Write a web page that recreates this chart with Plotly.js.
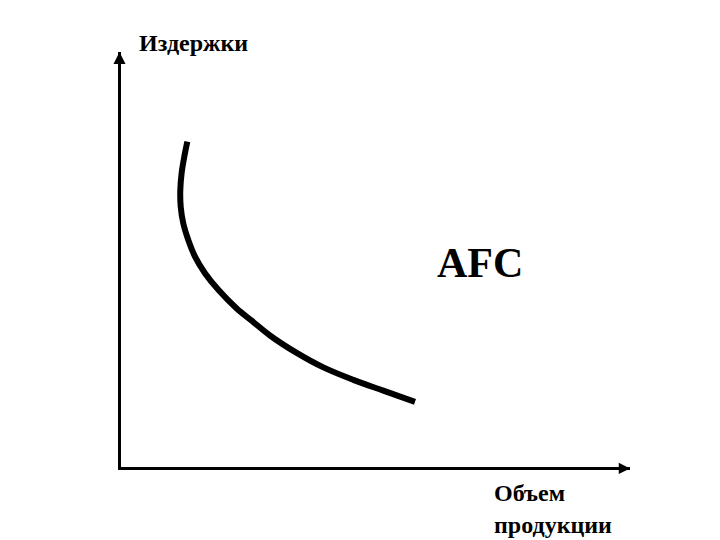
<!DOCTYPE html>
<html>
<head>
<meta charset="utf-8">
<script src="https://cdn.plot.ly/plotly-3.0.1.min.js"></script>
<style>html,body{margin:0;padding:0;background:#fff;}</style>
</head>
<body>
<div id="chart" style="width:720px;height:540px;"></div>
<script>
// AFC curve (quantity, average fixed cost) in arbitrary units
const afcQuantity = [1.303, 1.244, 1.191, 1.165, 1.173, 1.224, 1.322, 1.454, 1.650, 1.912, 2.273, 2.574, 2.927, 3.452, 3.976, 4.564, 5.153, 5.776];
const afcCost     = [7.84, 7.48, 7.08, 6.67, 6.27, 5.87, 5.47, 5.07, 4.67, 4.27, 3.82, 3.52, 3.17, 2.75, 2.40, 2.10, 1.84, 1.57];
const yLabel = "Издержки";
const xLabelLines = ["Объем", "продукции"];
const curveLabel = "AFC";

const font = "Liberation Serif";

const trace = {
  x: afcQuantity, y: afcCost, type: "scatter", mode: "lines",
  line: {color: "#000", width: 6, shape: "spline", smoothing: 1, simplify: false},
  cliponaxis: false, hoverinfo: "skip"
};

const axisCommon = {
  range: [0, 10], showline: true, linewidth: 3, linecolor: "#000",
  showgrid: false, zeroline: false, showticklabels: false, ticks: "", fixedrange: true
};

const layout = {
  width: 720, height: 540,
  margin: {l: 121, r: 90, t: 52, b: 73},
  paper_bgcolor: "#fff", plot_bgcolor: "#fff",
  showlegend: false,
  xaxis: Object.assign({}, axisCommon),
  yaxis: Object.assign({}, axisCommon),
  annotations: [
    {x: 1.0, y: -0.0036, xref: "paper", yref: "paper", ax: -12, ay: 0, text: "", showarrow: true,
     arrowhead: 2, arrowsize: 0.75, arrowwidth: 3, arrowcolor: "#000", standoff: 0},
    {x: -0.003, y: 1.0, xref: "paper", yref: "paper", ax: 0, ay: 12, text: "", showarrow: true,
     arrowhead: 2, arrowsize: 0.8, arrowwidth: 3, arrowcolor: "#000", standoff: 0},
    {x: 0.143, y: 1.022, xref: "paper", yref: "paper", text: "<b>" + yLabel + "</b>", showarrow: false,
     xanchor: "center", yanchor: "middle", font: {family: font, size: 24, color: "#000"}},
    {x: 7.05, y: 4.91, xref: "x", yref: "y", text: "<b>" + curveLabel + "</b>", showarrow: false,
     xanchor: "center", yanchor: "middle", font: {family: font, size: 42, color: "#000"}},
    {x: 0.729, y: -0.063, xref: "paper", yref: "paper", text: "<b>" + xLabelLines[0] + "</b>", showarrow: false,
     xanchor: "left", yanchor: "middle", font: {family: font, size: 24, color: "#000"}},
    {x: 0.729, y: -0.140, xref: "paper", yref: "paper", text: "<b>" + xLabelLines[1] + "</b>", showarrow: false,
     xanchor: "left", yanchor: "middle", font: {family: font, size: 24, color: "#000"}}
  ]
};

Plotly.newPlot("chart", [trace], layout, {displayModeBar: false, staticPlot: true});
</script>
</body>
</html>
